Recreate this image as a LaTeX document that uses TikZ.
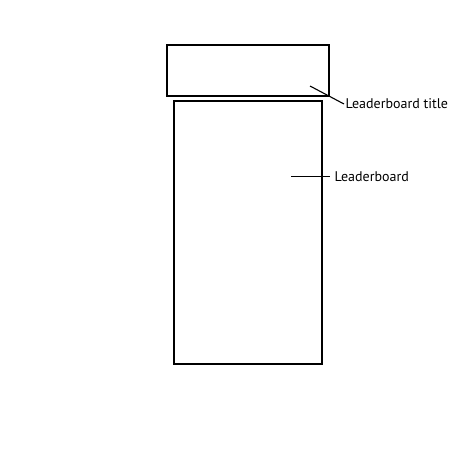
\documentclass[tikz,border=0pt]{standalone}
\usepackage{fontspec}
\setmainfont{PT Sans}
\usepackage{tikz}

\begin{document}
\begin{tikzpicture}
  [x=1pt,y=-1pt,line width=1.4pt,
   box/.style={draw,rectangle,inner sep=0pt},
   tag/.style={anchor=west,inner sep=1pt,font=\fontsize{14}{16}\selectfont}]
  \useasboundingbox (0,0) rectangle (472,473);
  \node[box,minimum width=162pt,minimum height=51pt] (title) at (248,70.5) {};
  \node[box,minimum width=148pt,minimum height=263pt] (board) at (248,232.5) {};

  \coordinate (t1) at (310,86);
  \coordinate (b1) at (291,176.5);
  \node[tag] (titlelabel) at (344,104) {Leaderboard title};
  \node[tag] (boardlabel) at (333,176.5) {Leaderboard};

  \draw[line width=1.1pt] (t1) -- (titlelabel.west);
  \draw[line width=1.1pt,shorten >=3pt] (b1) -- (boardlabel.west);

\end{tikzpicture}
\end{document}
